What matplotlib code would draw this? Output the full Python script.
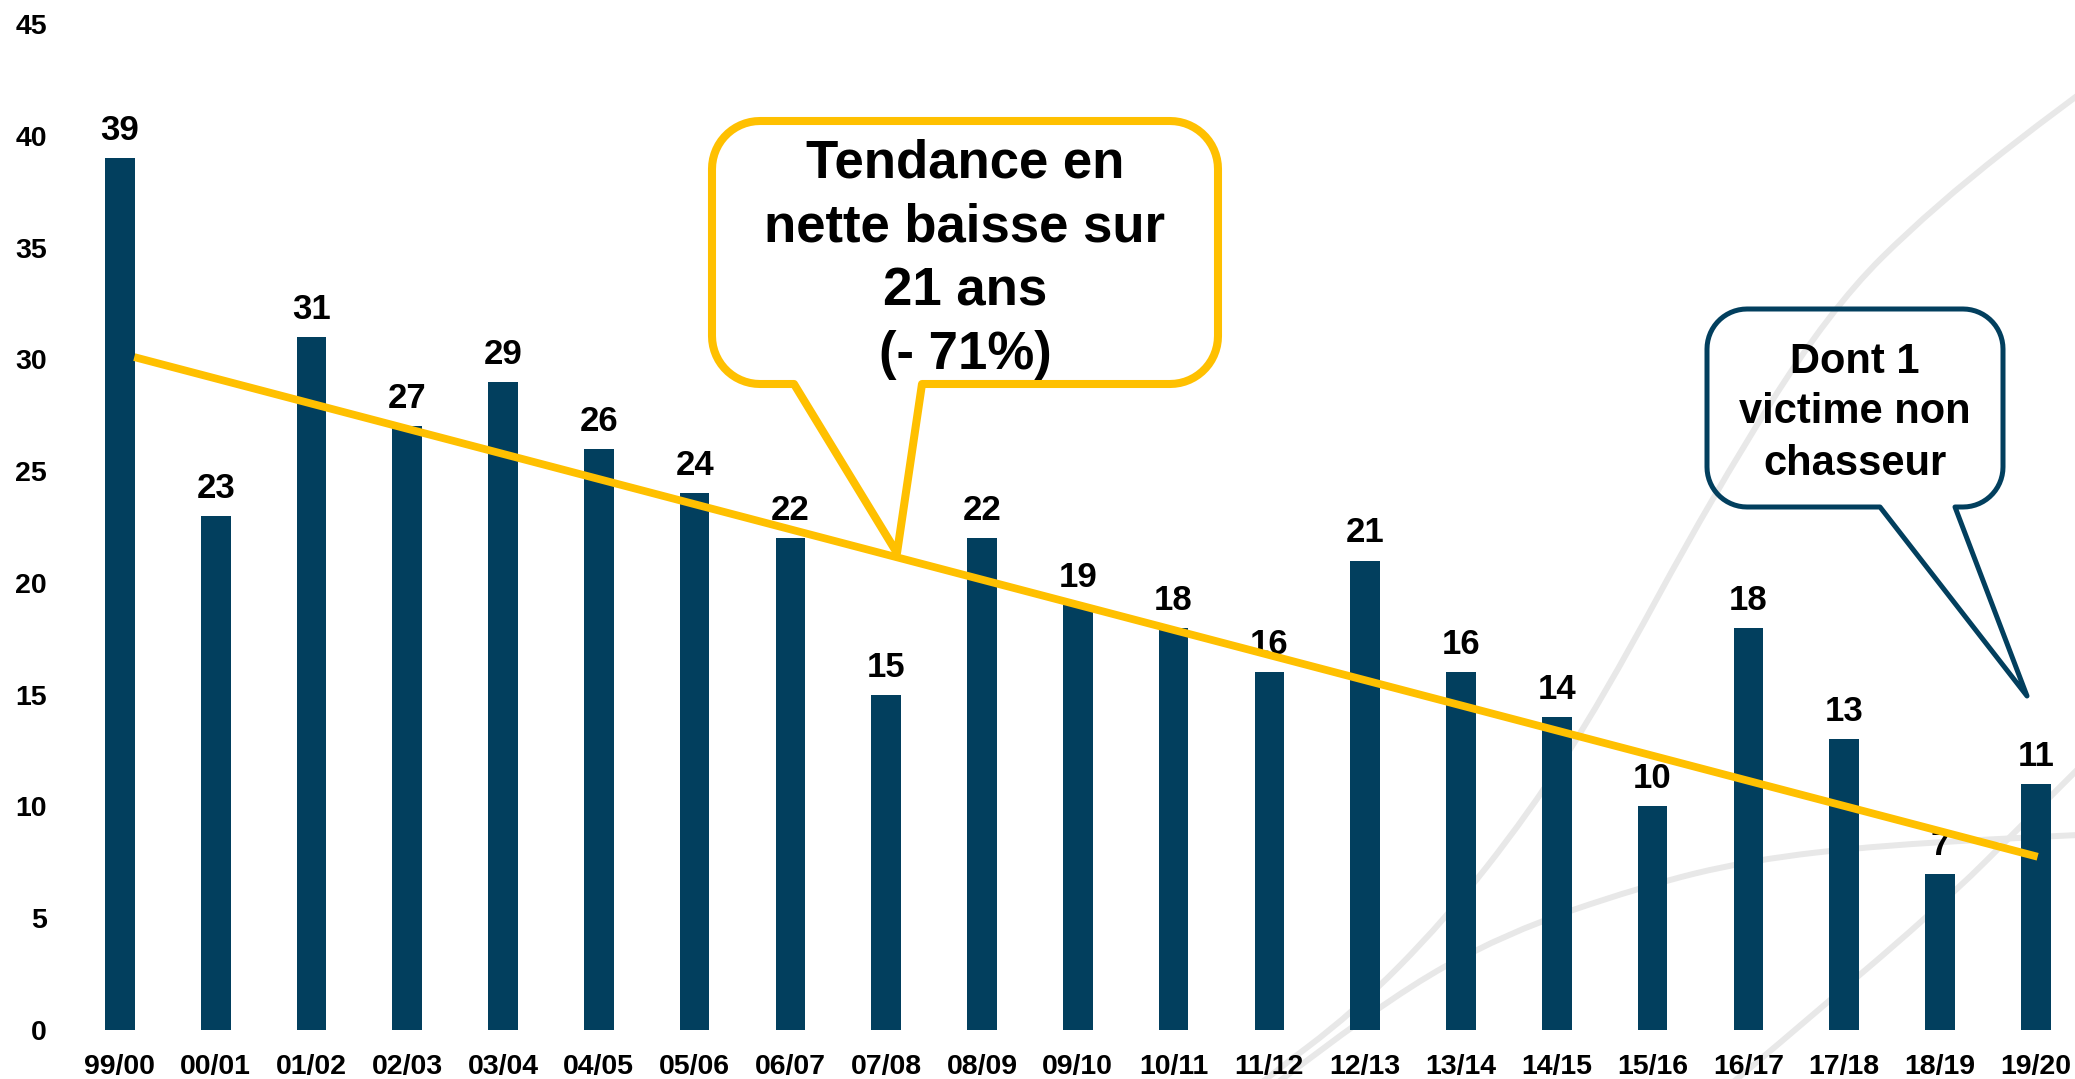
import numpy as np
import matplotlib
matplotlib.use("Agg")
import matplotlib.pyplot as plt
from matplotlib.path import Path
from matplotlib.patches import PathPatch, Polygon

# data
seasons = ["99/00", "00/01", "01/02", "02/03", "03/04", "04/05", "05/06", "06/07",
           "07/08", "08/09", "09/10", "10/11", "11/12", "12/13", "13/14", "14/15",
           "15/16", "16/17", "17/18", "18/19", "19/20"]
accidents = [39, 23, 31, 27, 29, 26, 24, 22, 15, 22, 19, 18, 16, 21, 16, 14, 10, 18, 13, 7, 11]
yticks = [0, 5, 10, 15, 20, 25, 30, 35, 40, 45]
# hand drawn trend line (start / end, in category units and values)
trend_x = [0.15, 20.02]
trend_y = [30.1, 7.75]

trend_text = ["Tendance en", "nette baisse sur", "21 ans", "(- 71%)"]
note_text = ["Dont 1", "victime non", "chasseur"]

BAR = "#023F5E"
GOLD = "#FFC000"
GREY = "#E8E8E8"
FONT = "Liberation Sans"

W, H = 2075, 1079
fig = plt.figure(figsize=(W / 100, H / 100), dpi=100)


def px_axes(z):
    a = fig.add_axes([0, 0, 1, 1], zorder=z)
    a.set_xlim(0, W)
    a.set_ylim(H, 0)
    a.axis("off")
    a.patch.set_alpha(0)
    return a


def smooth(points):
    p = np.array(points, float)
    verts, codes = [p[0]], [Path.MOVETO]
    for i in range(1, len(p) - 1):
        end = (p[i] + p[i + 1]) / 2 if i < len(p) - 2 else p[i + 1]
        verts += [p[i], end]
        codes += [Path.CURVE3, Path.CURVE3]
    return Path(verts, codes)


def bubble(x0, y0, x1, y1, r, bl, br, tip):
    def arc(cx, cy, a0, a1):
        t = np.radians(np.linspace(a0, a1, 16))
        return list(zip(cx + r * np.cos(t), cy + r * np.sin(t)))
    pts = arc(x0 + r, y0 + r, 180, 270) + arc(x1 - r, y0 + r, 270, 360)
    pts += arc(x1 - r, y1 - r, 0, 90)
    pts += [(br, y1), tip, (bl, y1)]
    pts += arc(x0 + r, y1 - r, 90, 180)
    return pts


# background decoration (slide swooshes)
bg = px_axes(0)
swooshes = [
    [(1240, 1100), (1265, 1079), (1353, 1013), (1445, 920), (1529, 813), (1602, 700),
     (1713, 495), (1829, 310), (1934, 206), (2075, 96), (2100, 80)],
    [(1255, 1100), (1384, 1000), (1506, 933), (1640, 887), (1750, 860), (1883, 845),
     (2075, 835), (2100, 834)],
    [(1712, 1100), (1863, 973), (1957, 890), (2017, 830), (2095, 752)],
]
for pts in swooshes:
    bg.add_patch(PathPatch(smooth(pts), fill=False, ec=GREY, lw=4.3, capstyle="butt"))

# main chart
ax = fig.add_axes([72 / W, 49 / H, 2003 / W, 1006 / H], zorder=1)
ax.patch.set_alpha(0)
x = np.arange(len(seasons))
ax.bar(x, accidents, width=0.31, color=BAR, zorder=2)
for xi, v in zip(x, accidents):
    ax.annotate(str(v), (xi, v), xytext=(0, 13), textcoords="offset points",
                ha="center", va="baseline", fontsize=25, fontweight="bold",
                family=FONT, color="black", zorder=3)
ax.plot(trend_x, trend_y, color=GOLD, lw=5.6, solid_capstyle="butt", zorder=4)

ax.set_xlim(-0.5, 20.41)
ax.set_ylim(0, 45)
ax.set_xticks(x)
ax.set_xticklabels(seasons)
ax.set_yticks(yticks)
ax.tick_params(axis="both", length=0, labelsize=20.5)
ax.tick_params(axis="x", pad=17)
ax.tick_params(axis="y", pad=18)
for lab in ax.get_xticklabels() + ax.get_yticklabels():
    lab.set_fontweight("bold")
    lab.set_family(FONT)
for s in ax.spines.values():
    s.set_visible(False)

# callouts
ov = px_axes(2)
ov.add_patch(Polygon(bubble(712, 121, 1218, 384, 48, 794, 922, (897, 553)), closed=True,
                     fill=False, ec=GOLD, lw=5.8, joinstyle="round"))
for txt, yb in zip(trend_text, [178, 241, 305, 369]):
    ov.text(965, yb, txt, ha="center", va="baseline", fontsize=38,
            fontweight="bold", family=FONT, color="black")

ov.add_patch(Polygon(bubble(1707, 309, 2003, 507, 40, 1880, 1955, (2027, 696)), closed=True,
                     fill=False, ec=BAR, lw=3.6, joinstyle="round"))
for txt, yb in zip(note_text, [373, 423, 475]):
    ov.text(1855, yb, txt, ha="center", va="baseline", fontsize=30,
            fontweight="bold", family=FONT, color="black")

fig.savefig("out.png", dpi=100, facecolor="white")
